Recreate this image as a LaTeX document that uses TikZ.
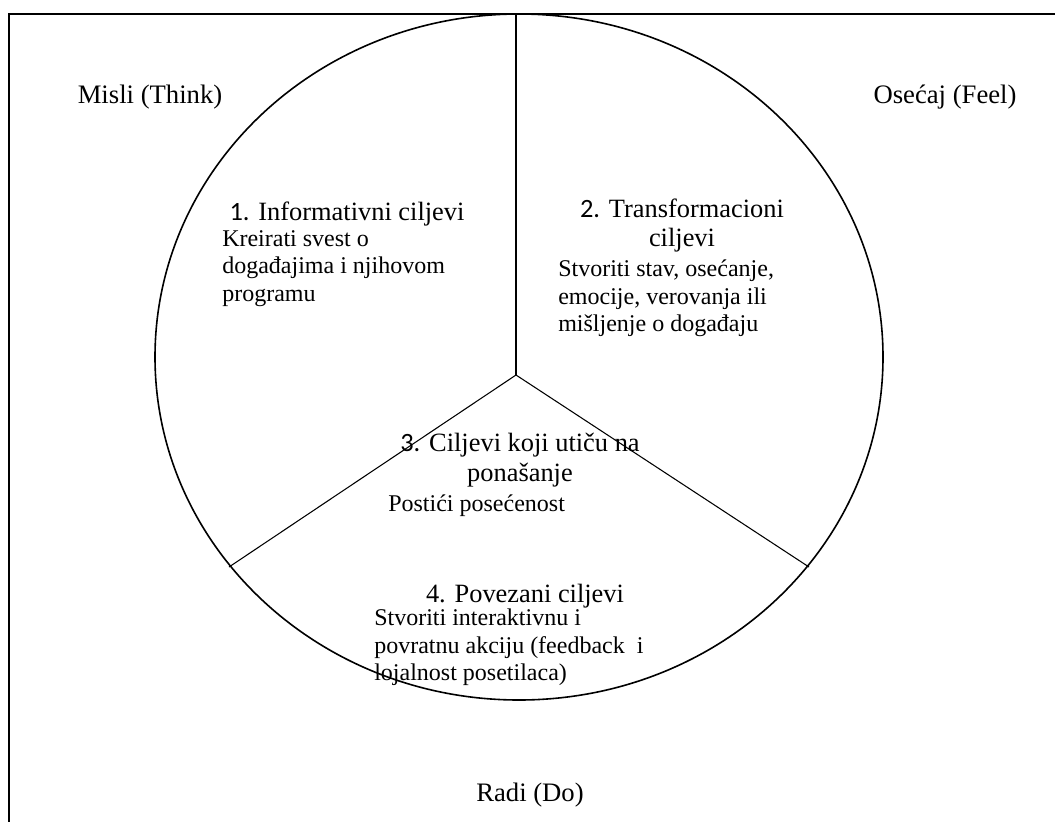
\documentclass[tikz,border=0pt]{standalone}
\usepackage{fontspec}
\setmainfont{Liberation Serif}
\newfontfamily\numfont{Carlito}
\tikzset{
  sidelabel/.style={inner sep=0pt, font=\fontsize{20}{24}\selectfont},
  goaltitle/.style={inner sep=0pt, align=center, font=\fontsize{19.8}{21.5}\selectfont},
  goalbody/.style={inner sep=0pt, align=left, anchor=north west,
    font=\fontsize{18}{20.6}\selectfont},
  ringline/.style={line width=1.2pt},
  spokeline/.style={line width=0.8pt}
}

\begin{document}
\begin{tikzpicture}[x=0.75pt,y=-0.75pt]
  \useasboundingbox (0,0) rectangle (1055,821);

  \draw[line width=1.5pt] (9,830) -- (9,14) -- (1065,14);

  \coordinate (ringc) at (519,357);
  \coordinate (hub) at (516,375);
  \coordinate (top) at (516,14);
  \coordinate (lend) at (229,567);
  \coordinate (rend) at (809,567);
  \draw[ringline] (ringc) ellipse [x radius=364, y radius=343];
  \draw[spokeline] (top) -- (hub);
  \draw[spokeline] (hub) -- (lend);
  \draw[spokeline] (hub) -- (rend);

  \node[sidelabel] (think) at (150,97) {Misli (Think)};
  \node[sidelabel] (feel) at (945,97) {Osećaj (Feel)};
  \node[sidelabel] (do) at (530,795) {Radi (Do)};

  \node[goaltitle] (t1) at (347,214) {{\numfont 1.} Informativni ciljevi};
  \node[goalbody] (b1) at (222,230) {Kreirati svest o\\događajima i njihovom\\programu};

  \node[goaltitle, anchor=north] (t2) at (682,199) {{\numfont 2.} Transformacioni\\ciljevi};
  \node[goalbody] (b2) at (558,260) {Stvoriti stav, osećanje,\\emocije, verovanja ili\\mišljenje o događaju};

  \node[goaltitle, anchor=north, font=\fontsize{19.8}{22.5}\selectfont] (t3) at (520,433)
    {{\numfont 3.} Ciljevi koji utiču na\\ponašanje};
  \node[goalbody] (b3) at (388,495) {Postići posećenost};

  \node[goaltitle] (t4) at (525,596) {4. Povezani ciljevi};
  \node[goalbody] (b4) at (374,609) {Stvoriti interaktivnu i\\povratnu akciju (feedback\ \ i\\lojalnost posetilaca)};

\end{tikzpicture}
\end{document}
